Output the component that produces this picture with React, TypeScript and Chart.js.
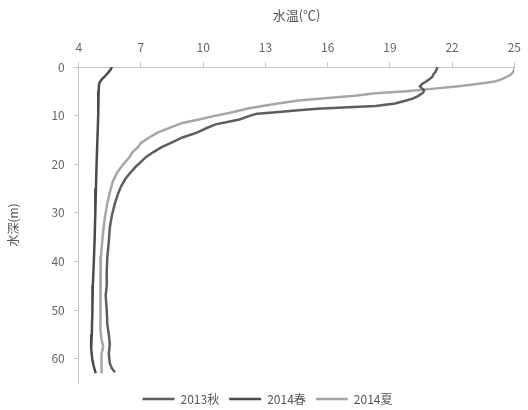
import React, { useEffect, useRef } from "react";
import { Chart, registerables } from "chart.js";

Chart.register(...registerables);

const seriesNames = ["2013秋", "2014春", "2014夏"];

const depthAutumn = [0, 0.5, 1, 1.5, 2, 2.5, 3, 3.5, 4, 4.4, 4.8, 5.3, 6, 6.5, 7, 7.5, 8, 8.3, 8.6, 8.9, 9.3, 9.6, 10.1, 10.8, 11.8, 12.5, 13.5, 14.5, 15.5, 16.5, 17.5, 18.5, 19.5, 20.5, 21.7, 23, 24.5, 26, 28, 30.5, 33, 36, 39, 42, 45, 47, 50, 53, 55, 57, 59, 61, 62, 62.8];
const tempAutumn = [21.3, 21.25, 21.2, 21.1, 21.05, 20.9, 20.75, 20.55, 20.45, 20.55, 20.65, 20.6, 20.35, 20.1, 19.7, 19.25, 18.3, 17.0, 15.5, 14.6, 13.5, 12.6, 12.2, 11.75, 10.6, 10.2, 9.7, 9.0, 8.5, 8.0, 7.6, 7.25, 7.0, 6.75, 6.5, 6.25, 6.05, 5.9, 5.75, 5.6, 5.5, 5.45, 5.38, 5.35, 5.35, 5.3, 5.35, 5.38, 5.45, 5.5, 5.45, 5.5, 5.6, 5.75];

const depthSpring = [0, 0.5, 1, 1.5, 2, 2.5, 3, 3.5, 5, 10, 15, 20, 25, 30, 35, 40, 45, 50, 55, 58, 60, 61.5, 63];
const tempSpring = [5.6, 5.55, 5.45, 5.35, 5.25, 5.12, 5.03, 4.98, 4.96, 4.94, 4.9, 4.86, 4.83, 4.8, 4.77, 4.73, 4.68, 4.66, 4.63, 4.6, 4.65, 4.72, 4.82];

const depthSummer = [0, 0.5, 1, 1.5, 2, 2.5, 3, 3.5, 4, 4.5, 5, 5.4, 5.9, 6.4, 6.9, 7.5, 8.5, 9.4, 10.1, 10.8, 11.5, 12.3, 13.5, 14.5, 15.6, 16.5, 17.5, 18.5, 20, 21.7, 23.5, 25.8, 28, 30.5, 33, 36, 39, 42, 45, 48, 51, 54, 56, 57.5, 59, 61, 63];
const tempSummer = [25.0, 25.0, 24.95, 24.85, 24.65, 24.4, 24.05, 23.2, 22.2, 21.0, 19.8, 18.3, 17.3, 16.0, 14.6, 13.6, 12.2, 11.3, 10.5, 9.8, 9.0, 8.5, 7.8, 7.4, 7.0, 6.85, 6.6, 6.45, 6.15, 5.85, 5.65, 5.5, 5.38, 5.28, 5.2, 5.13, 5.07, 5.05, 5.05, 5.03, 5.05, 5.05, 5.1, 5.18, 5.1, 5.08, 5.12];

const xTicks = [4, 7, 10, 13, 16, 19, 22, 25];
const yTicks = [0, 10, 20, 30, 40, 50, 60];

const FONT = "'Noto Sans CJK JP', 'Noto Sans', sans-serif";

function toPoints(temps: number[], depths: number[]) {
  return temps.map((t, i) => ({ x: t, y: depths[i] }));
}

export default function App() {
  const ref = useRef<HTMLCanvasElement | null>(null);
  useEffect(() => {
    if (!ref.current) return;
    const chart = new Chart(ref.current, {
      type: "scatter",
      data: {
        datasets: [
          {
            label: seriesNames[0],
            data: toPoints(tempAutumn, depthAutumn),
            borderColor: "#5e5e5e",
            backgroundColor: "#5e5e5e",
            borderWidth: 2.5,
            showLine: true,
            pointRadius: 0,
            tension: 0,
          },
          {
            label: seriesNames[1],
            data: toPoints(tempSpring, depthSpring),
            borderColor: "#4a4a4a",
            backgroundColor: "#4a4a4a",
            borderWidth: 2.5,
            showLine: true,
            pointRadius: 0,
            tension: 0,
          },
          {
            label: seriesNames[2],
            data: toPoints(tempSummer, depthSummer),
            borderColor: "#a6a6a6",
            backgroundColor: "#a6a6a6",
            borderWidth: 2.5,
            showLine: true,
            pointRadius: 0,
            tension: 0,
          },
        ],
      },
      options: {
        animation: false,
        responsive: true,
        maintainAspectRatio: false,
        layout: { padding: { top: 7, right: -1, bottom: -5, left: 6 } },
        plugins: {
          tooltip: { enabled: false },
          legend: {
            position: "bottom",
            labels: {
              usePointStyle: true,
              pointStyle: "line",
              pointStyleWidth: 32,
              boxHeight: 12,
              padding: 10,
              color: "#555",
              font: { family: FONT, size: 12 },
            },
          },
        },
        scales: {
          x: {
            type: "linear",
            position: "top",
            min: 4,
            max: 25,
            afterBuildTicks: (s: any) => {
              s.ticks = xTicks.map((v) => ({ value: v }));
            },
            grid: { drawOnChartArea: false, color: "#c8c8c8", tickLength: 5 },
            border: { color: "#c8c8c8" },
            ticks: { color: "#666", font: { family: FONT, size: 12 }, padding: 7, maxRotation: 0 },
            title: {
              display: true,
              text: "水温(℃)",
              color: "#555",
              font: { family: FONT, size: 13 },
              padding: { top: 0, bottom: 11 },
            },
          },
          y: {
            type: "linear",
            reverse: true,
            min: 0,
            max: 65,
            afterBuildTicks: (s: any) => {
              s.ticks = yTicks.map((v) => ({ value: v }));
            },
            grid: { drawOnChartArea: false, color: "#c8c8c8", tickLength: 5 },
            border: { color: "#c8c8c8" },
            ticks: { color: "#666", font: { family: FONT, size: 12 }, padding: 9 },
            title: {
              display: true,
              text: "水深(m)",
              color: "#555",
              font: { family: FONT, size: 12 },
              padding: { top: 0, bottom: 22 },
            },
          },
        },
      },
    } as any);
    return () => chart.destroy();
  }, []);
  return (
    <div style={{ position: "fixed", left: 0, top: 0, width: 528, height: 410, background: "#fff" }}>
      <canvas ref={ref} />
    </div>
  );
}
